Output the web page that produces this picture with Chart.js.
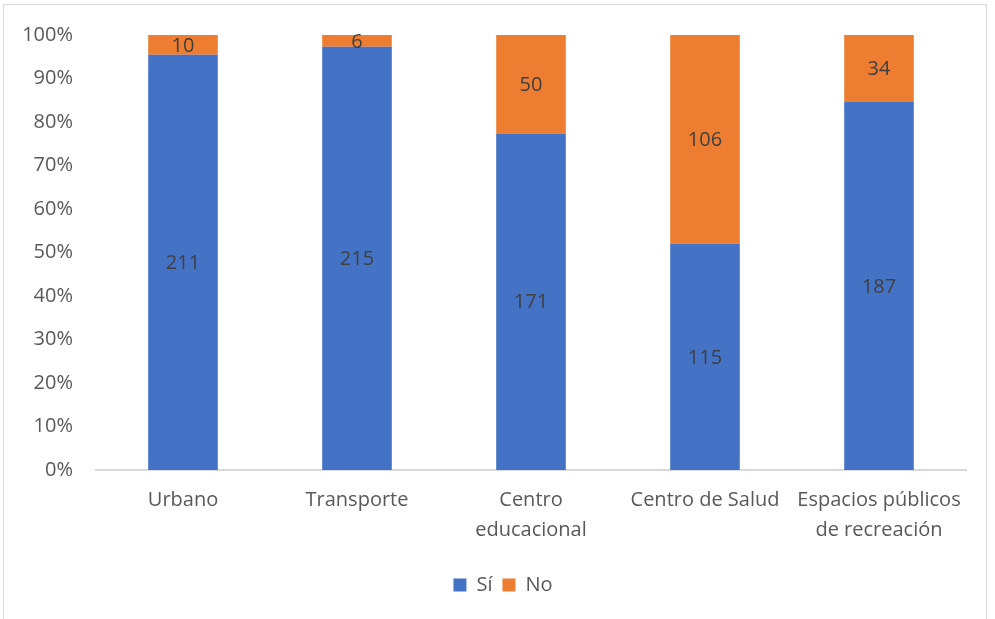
<!DOCTYPE html>
<html lang="es">
<head>
<meta charset="utf-8">
<title>Servicios</title>
<script src="https://cdn.jsdelivr.net/npm/chart.js@4.4.1/dist/chart.umd.min.js"></script>
<style>
    html, body { margin: 0; padding: 0; background: #fff; }
    #wrap { position: relative; width: 995px; height: 619px; overflow: hidden; }
    #frame {
        position: absolute; left: 3px; top: 4px; width: 984px; height: 640px;
        border: 1px solid #d9d9d9; box-sizing: border-box;
    }
    #chart { position: absolute; left: 0; top: 0; }
</style>
</head>
<body>
<div id="wrap">
    <div id="frame"></div>
    <canvas id="chart" width="995" height="619"></canvas>
</div>
<script>
// Respuestas por servicio (conteos)
const categories = ['Urbano', 'Transporte', ['Centro', 'educacional'], 'Centro de Salud', ['Espacios públicos', 'de recreación']];
const votosSi = [211, 215, 171, 115, 187];
const votosNo = [10, 6, 50, 106, 34];
const yTicks = [0, 10, 20, 30, 40, 50, 60, 70, 80, 90, 100];

const FONT = '"Open Sans", "Liberation Sans", sans-serif';
const FONT_SIZE = 20;

// Porcentaje de cada conteo sobre el total de la categoría
const totals = votosSi.map((v, i) => v + votosNo[i]);
const pctSi = votosSi.map((v, i) => v / totals[i] * 100);
const pctNo = votosNo.map((v, i) => v / totals[i] * 100);

// Etiquetas con el conteo en el centro de cada segmento
const segmentLabels = {
    id: 'segmentLabels',
    afterDatasetsDraw(chart) {
        const ctx = chart.ctx;
        ctx.save();
        ctx.font = FONT_SIZE + 'px ' + FONT;
        ctx.fillStyle = '#404040';
        ctx.textAlign = 'center';
        ctx.textBaseline = 'middle';
        chart.data.datasets.forEach((ds, di) => {
            const meta = chart.getDatasetMeta(di);
            meta.data.forEach((bar, i) => {
                const p = bar.getCenterPoint();
                ctx.fillText(String(ds.counts[i]), p.x, p.y + 1);
            });
        });
        ctx.restore();
    }
};

// La leyenda va centrada bajo todo el gráfico, no solo bajo el área de barras
const legendShift = {
    id: 'legendShift',
    afterLayout(chart) {
        if (chart.legend) {
            chart.legend.left += 20;
            chart.legend.right += 20;
        }
    }
};

new Chart(document.getElementById('chart'), {
    type: 'bar',
    data: {
        labels: categories,
        datasets: [
            {
                label: 'Sí',
                data: pctSi,
                counts: votosSi,
                backgroundColor: '#4472C4',
                borderWidth: 0
            },
            {
                label: 'No',
                data: pctNo,
                counts: votosNo,
                backgroundColor: '#ED7D31',
                borderWidth: 0
            }
        ]
    },
    options: {
        responsive: false,
        animation: false,
        devicePixelRatio: 1,
        categoryPercentage: 1,
        barPercentage: 0.4,
        layout: {
            padding: { left: 0, right: 29, top: 33, bottom: 14 }
        },
        plugins: {
            legend: {
                position: 'bottom',
                labels: {
                    boxWidth: 13,
                    boxHeight: 13,
                    padding: 10,
                    color: '#595959',
                    font: { family: FONT, size: FONT_SIZE }
                }
            },
            tooltip: { enabled: false }
        },
        scales: {
            x: {
                stacked: true,
                grid: { display: false, drawTicks: false },
                border: { display: true, color: '#d9d9d9', width: 2 },
                ticks: {
                    color: '#595959',
                    padding: 15,
                    maxRotation: 0,
                    autoSkip: false,
                    font: { family: FONT, size: FONT_SIZE, lineHeight: 1.5 }
                },
                afterFit(scale) { scale.height = 95; }
            },
            y: {
                stacked: true,
                min: 0,
                max: 100,
                grid: { display: false, drawTicks: false },
                border: { display: false },
                afterBuildTicks(scale) {
                    scale.ticks = yTicks.map(v => ({ value: v }));
                },
                ticks: {
                    color: '#595959',
                    padding: 23,
                    font: { family: FONT, size: FONT_SIZE },
                    callback: v => v + '%'
                },
                afterFit(scale) { scale.width = 96; }
            }
        }
    },
    plugins: [segmentLabels, legendShift]
});
</script>
</body>
</html>
